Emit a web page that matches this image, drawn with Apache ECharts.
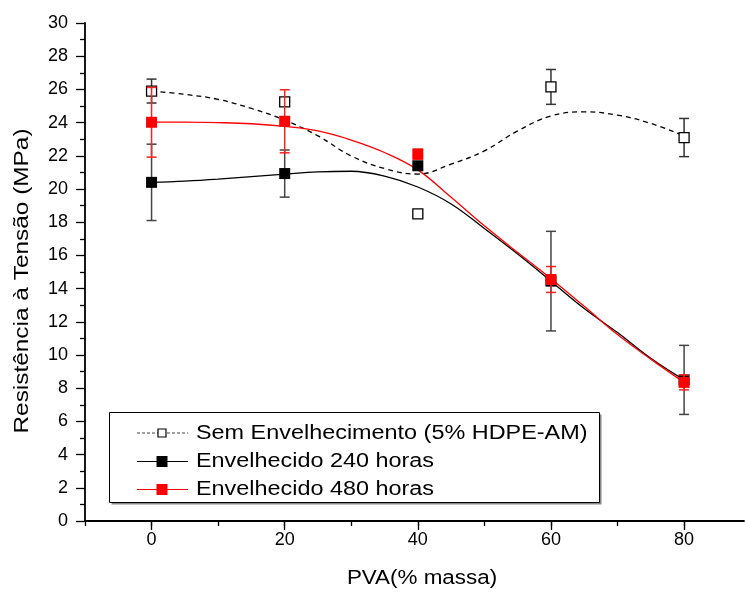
<!DOCTYPE html>
<html>
<head>
<meta charset="utf-8">
<script src="https://cdn.jsdelivr.net/npm/echarts@6/dist/echarts.min.js"></script>
<style>
html,body{margin:0;padding:0;background:#fff;}
#chart{width:745px;height:592px;}
</style>
</head>
<body>
<div id="chart"></div>
<script>
// ---- data ----
const xValues = [0, 20, 40, 60, 80];
const semMean = [25.9, 25.25, 18.5, 26.15, 23.1];
const semErr  = [0.72, 0.25, 0.1, 1.05, 1.15];
const h240Mean = [20.4, 20.93, 21.4, 14.45, 8.5];
const h240Err  = [2.3, 1.42, 0.2, 3.0, 2.08];
const h480Mean = [24.02, 24.08, 22.1, 14.55, 8.35];
const h480Err  = [2.1, 1.9, 0.3, 0.78, 0.45];

// fitted spline curves, every 5 units
const curveX   = [0, 5, 10, 15, 20, 25, 30, 35, 40, 45, 50, 55, 60, 65, 70, 75, 80];
const semCurve = [25.9, 25.7, 25.4, 24.85, 24.15, 23.2, 21.99, 21.23, 20.9, 21.5, 22.3, 23.5, 24.4, 24.65, 24.45, 23.95, 23.2];
const h240Curve = [20.4, 20.48, 20.6, 20.75, 20.9, 21.03, 21.07, 20.78, 20.12, 19.1, 17.62, 16.08, 14.45, 12.8, 11.35, 9.8, 8.5];
const h480Curve = [24.03, 24.03, 24.0, 23.93, 23.77, 23.5, 22.95, 22.2, 21.15, 19.5, 17.78, 16.17, 14.6, 12.93, 11.23, 9.75, 8.35];

const xMajorTicks = [0, 20, 40, 60, 80];
const xMinorTicks = [-10, 0, 10, 20, 30, 40, 50, 60, 70, 80];

const legendLabels = ['Sem Envelhecimento (5% HDPE-AM)', 'Envelhecido 240 horas', 'Envelhecido 480 horas'];
const yTitle = 'Resistência à Tensão (MPa)';
const xTitle = 'PVA(% massa)';

const FONT = '"Liberation Sans", Arial, sans-serif';

function pairs(xs, ys) { return xs.map((x, i) => [x, ys[i]]); }

function errSeries(means, errs, color, z) {
  return {
    type: 'custom',
    z: z,
    data: xValues.map((x, i) => [x, means[i] - errs[i], means[i] + errs[i]]),
    encode: { x: 0, y: [1, 2] },
    renderItem: function (params, api) {
      const x = api.value(0);
      const lo = api.coord([x, api.value(1)]);
      const hi = api.coord([x, api.value(2)]);
      const w = 5;
      const st = { stroke: color, lineWidth: 1.5 };
      return {
        type: 'group',
        children: [
          { type: 'line', shape: { x1: lo[0], y1: lo[1], x2: hi[0], y2: hi[1] }, style: st },
          { type: 'line', shape: { x1: lo[0] - w, y1: lo[1], x2: lo[0] + w, y2: lo[1] }, style: st },
          { type: 'line', shape: { x1: hi[0] - w, y1: hi[1], x2: hi[0] + w, y2: hi[1] }, style: st }
        ]
      };
    }
  };
}

const chart = echarts.init(document.getElementById('chart'), null, { renderer: 'canvas' });

const LX = 109.5, LY = 412.5, LW = 490, LH = 90;
const rowY = [433, 461.5, 489.5];

function legendText(i) {
  return { type: 'text', z: 23, x: 196, y: rowY[i], scaleX: 1.17,
    style: { text: legendLabels[i], x: 0, y: 0, verticalAlign: 'middle', font: '20px ' + FONT, fill: '#000' } };
}

const option = {
  backgroundColor: '#fff',
  animation: false,
  grid: { left: 85, right: 1, top: 23, bottom: 71, containLabel: false },
  xAxis: [
    {
      type: 'value', min: -10, max: 89, interval: 10,
      axisLine: { show: true, onZero: false, lineStyle: { color: '#000', width: 1.8 } },
      axisTick: { show: true, customValues: xMinorTicks, length: 5, lineStyle: { color: '#000', width: 1.3 } },
      axisLabel: { customValues: xMajorTicks, margin: 10, fontSize: 18, fontFamily: FONT, color: '#000' },
      splitLine: { show: false }
    },
    {
      type: 'value', min: -10, max: 89, interval: 10, gridIndex: 0, position: 'bottom',
      axisLine: { show: false },
      axisTick: { show: true, customValues: xMajorTicks, length: 9, lineStyle: { color: '#000', width: 1.3 } },
      axisLabel: { show: false },
      splitLine: { show: false }
    }
  ],
  yAxis: {
    type: 'value', min: 0, max: 30, interval: 2,
    axisLine: { show: true, onZero: false, lineStyle: { color: '#000', width: 1.8 } },
    axisTick: { show: true, length: 9, lineStyle: { color: '#000', width: 1.3 } },
    minorTick: { show: true, splitNumber: 2, length: 5, lineStyle: { color: '#000', width: 1.3 } },
    axisLabel: { margin: 17, fontSize: 18, fontFamily: FONT, color: '#000' },
    splitLine: { show: false }
  },
  series: [
    { type: 'line', data: pairs(curveX, semCurve), smooth: 0.4, showSymbol: false, z: 2,
      lineStyle: { color: '#000', width: 1.3, type: [5, 4] } },
    { type: 'line', data: pairs(curveX, h240Curve), smooth: 0.4, showSymbol: false, z: 2,
      lineStyle: { color: '#000', width: 1.3 } },
    { type: 'line', data: pairs(curveX, h480Curve), smooth: 0.4, showSymbol: false, z: 3,
      lineStyle: { color: '#ff0000', width: 1.3 } },
    errSeries(semMean, semErr, '#333', 4),
    errSeries(h240Mean, h240Err, '#444', 5),
    errSeries(h480Mean, h480Err, '#ff2020', 7),
    { type: 'scatter', data: pairs(xValues, semMean), symbol: 'rect', symbolSize: 10, z: 6,
      itemStyle: { color: '#fff', borderColor: '#000', borderWidth: 1.3, opacity: 1 } },
    { type: 'scatter', data: pairs(xValues, h240Mean), symbol: 'rect', symbolSize: 11, z: 6,
      itemStyle: { color: '#000', opacity: 1 } },
    { type: 'scatter', data: pairs(xValues, h480Mean), symbol: 'rect', symbolSize: 11, z: 8,
      itemStyle: { color: '#ff0000', opacity: 1 } }
  ],
  graphic: [
    // axis titles
    { type: 'text', z: 20, x: 22, y: 281, rotation: Math.PI / 2, scaleX: 1.22,
      style: { text: yTitle, x: 0, y: 0, align: 'center', verticalAlign: 'middle', font: '20px ' + FONT, fill: '#000' } },
    { type: 'text', z: 20, x: 422, y: 578, scaleX: 1.12,
      style: { text: xTitle, x: 0, y: 0, align: 'center', verticalAlign: 'middle', font: '20px ' + FONT, fill: '#000' } },
    // legend box
    { type: 'rect', z: 20, shape: { x: LX + 2, y: LY + 2, width: LW, height: LH }, style: { fill: '#888' } },
    { type: 'rect', z: 21, shape: { x: LX, y: LY, width: LW, height: LH }, style: { fill: '#fff', stroke: '#000', lineWidth: 1 } },
    // row 1
    { type: 'line', z: 22, shape: { x1: 137, y1: rowY[0], x2: 188, y2: rowY[0] }, style: { stroke: '#444', lineWidth: 1.2, lineDash: [3, 2] } },
    { type: 'rect', z: 23, shape: { x: 158, y: rowY[0] - 4, width: 8, height: 8 }, style: { fill: '#fff', stroke: '#000', lineWidth: 1.2 } },
    legendText(0),
    // row 2
    { type: 'line', z: 22, shape: { x1: 137, y1: rowY[1], x2: 188, y2: rowY[1] }, style: { stroke: '#000', lineWidth: 1.2 } },
    { type: 'rect', z: 23, shape: { x: 156.5, y: rowY[1] - 5.5, width: 11, height: 11 }, style: { fill: '#000' } },
    legendText(1),
    // row 3
    { type: 'line', z: 22, shape: { x1: 137, y1: rowY[2], x2: 188, y2: rowY[2] }, style: { stroke: '#ff0000', lineWidth: 1.2 } },
    { type: 'rect', z: 23, shape: { x: 156.5, y: rowY[2] - 5.5, width: 11, height: 11 }, style: { fill: '#ff0000' } },
    legendText(2)
  ]
};
chart.setOption(option);
</script>
</body>
</html>
